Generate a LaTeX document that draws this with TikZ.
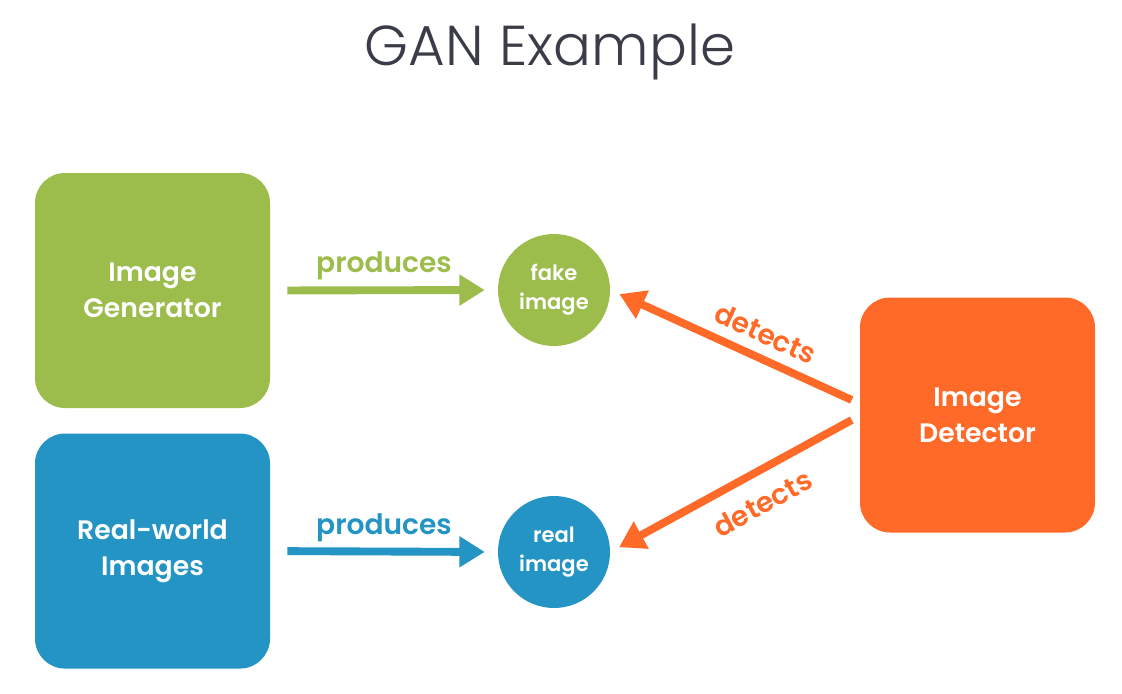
\documentclass[tikz,border=0pt]{standalone}
\usepackage{fontspec}
\setmainfont{Poppins}
\newfontfamily\gansemi{Poppins SemiBold}
\newfontfamily\ganlight{Poppins Light}
\usepackage{tikz}
\usetikzlibrary{
  arrows.meta,
  positioning,
  calc
}
\definecolor{gangreen}{HTML}{9CBC4C}
\definecolor{ganblue}{HTML}{2394C3}
\definecolor{ganorange}{HTML}{FF6A28}
\definecolor{gantitle}{HTML}{3A3C48}

\begin{document}
\begin{tikzpicture}[
  box/.style={rounded corners=0.75cm, minimum size=5.875cm, inner sep=0pt,
    text=white, font=\fontsize{19}{25.5}\gansemi, align=center},
  blob/.style={circle, minimum size=2.8cm, inner sep=0pt,
    text=white, font=\fontsize{15}{20.5}\gansemi, align=center},
  flow/.style={line width=5.6pt, -{Triangle[length=18pt,width=21pt]}},
  lbl/.style={font=\fontsize{20}{24}\gansemi}
]
  \useasboundingbox (0,0) rectangle (28.05,-17.35);
  \node[text=gantitle, font=\fontsize{40}{48}\ganlight] (title) at (13.75,-1.3) {GAN Example};

  \node[box, fill=gangreen] (gen) at (3.8125,-7.2625) {Image\\Generator};
  \node[box, fill=ganblue, below=0.625cm of gen] (world) {Real-world\\Images};
  \node[box, fill=ganorange] (det) at (24.4375,-10.375) {Image\\Detector};

  \node[blob, fill=gangreen] (fake) at (13.85,-7.25) {fake\\image};
  \node[blob, fill=ganblue] (real) at (13.85,-13.8) {real\\image};

  \coordinate (d1) at ($(det.west)+(-0.2,0.375)$);
  \coordinate (d2) at ($(det.west)+(-0.2,-0.125)$);

  \draw[flow, gangreen, shorten <=0.425cm, shorten >=0.325cm] (gen.east) -- node[lbl, above=1pt]{produces} (fake.west);
  \draw[flow, ganblue, shorten <=0.425cm, shorten >=0.325cm] (world.east) -- node[lbl, above=1pt]{produces} (real.west);
  \draw[flow, ganorange, shorten >=0.25cm] (d1) -- node[lbl, pos=0.4, sloped, above=4pt]{detects} (fake.east);
  \draw[flow, ganorange, shorten >=0.25cm] (d2) -- node[lbl, pos=0.43, sloped, below=8pt]{detects} (real.east);
\end{tikzpicture}
\end{document}
